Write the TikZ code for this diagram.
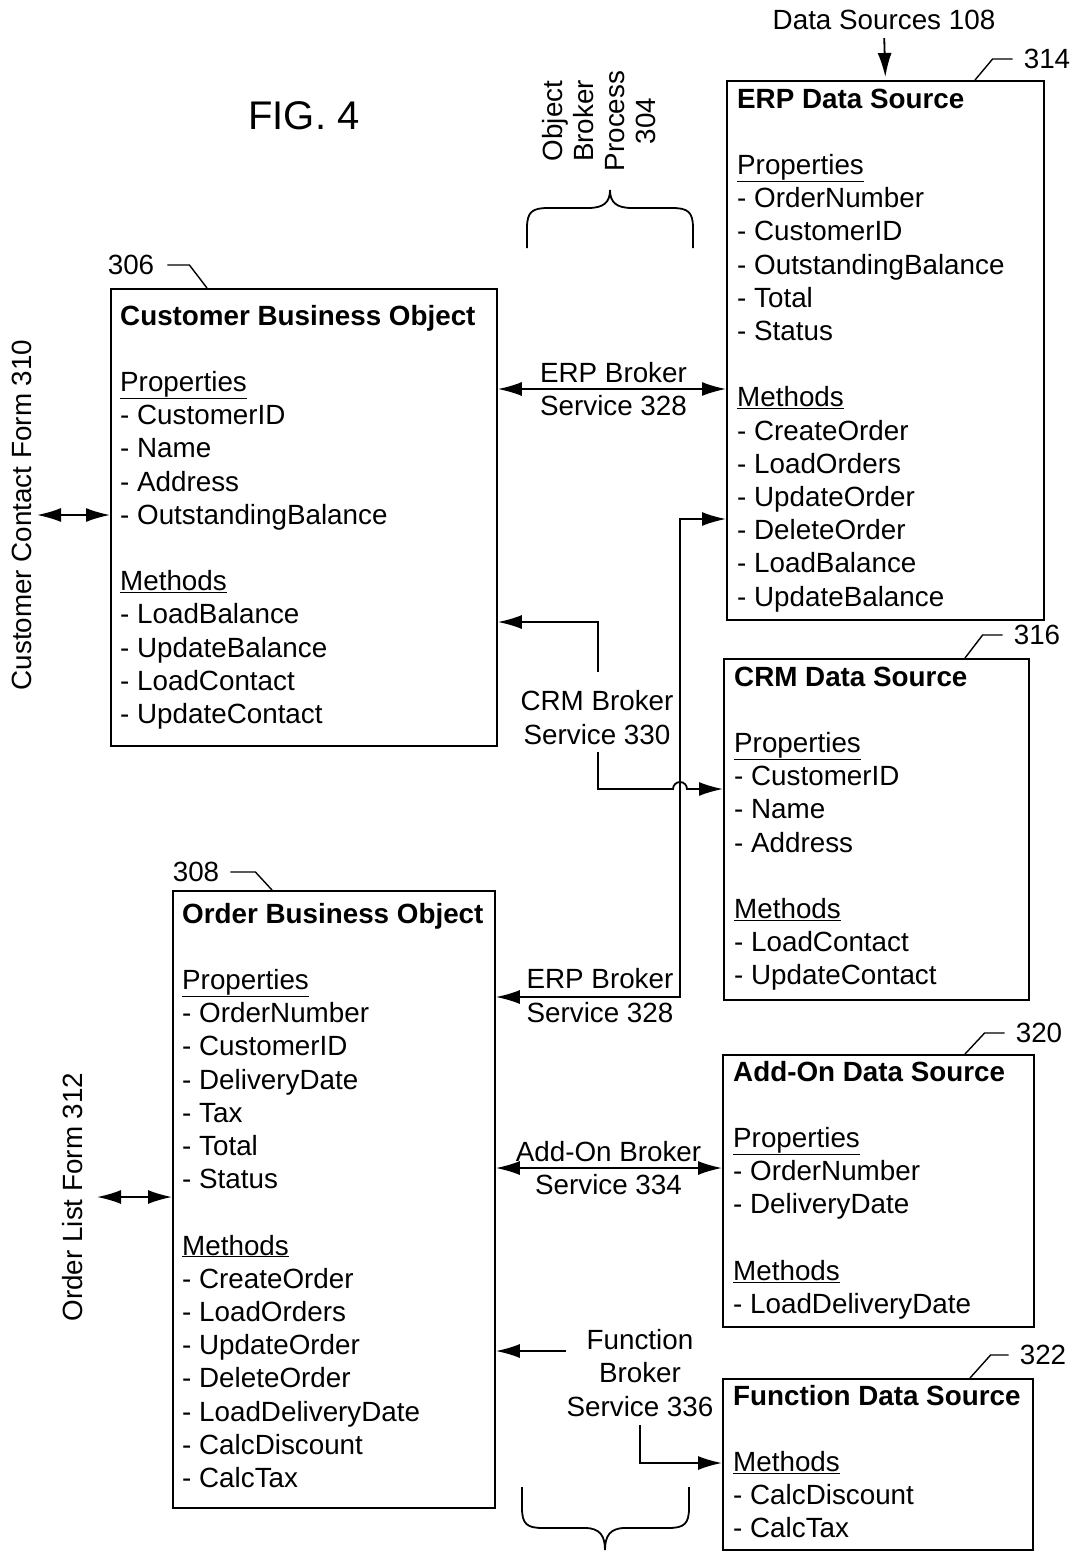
\documentclass[tikz,border=0pt]{standalone}
\usepackage{fontspec}
\setmainfont{Liberation Sans}
\usetikzlibrary{arrows.meta}
\newcommand\boxtext[4]{\foreach \lineno/\txtline in {#4}{\node[txt] (#1-\lineno) at ({#2},{#3+33.2*\lineno}) {\txtline};}}
\begin{document}
\begin{tikzpicture}[x=1pt,y=-1pt,
  >={Latex[length=24pt,width=14pt]},
  box/.style={draw,line width=1.8pt,rectangle,inner sep=0pt,anchor=north west},
  txt/.style={anchor=base west,inner sep=0pt,font=\fontsize{27.8}{33.2}\selectfont},
  lbl/.style={align=center,inner sep=0pt,font=\fontsize{27.8}{33.2}\selectfont},
  num/.style={inner sep=0pt,font=\fontsize{27.8}{33.2}\selectfont},
  conn/.style={line width=1.8pt},
  lead/.style={line width=1.4pt}]
\useasboundingbox (0,0) rectangle (1074,1551);

% title
\node[inner sep=0pt,font=\fontsize{40}{48}\selectfont] (fig) at (304,116) {FIG. 4};

% boxes
\node[box,minimum width=386pt,minimum height=457pt] (cbo) at (110,288) {};
\node[box,minimum width=317pt,minimum height=539pt] (erp) at (726,80) {};
\node[box,minimum width=305pt,minimum height=341pt] (crm) at (723,658) {};
\node[box,minimum width=322pt,minimum height=617pt] (obo) at (172,890) {};
\node[box,minimum width=311pt,minimum height=272pt] (addon) at (722,1054) {};
\node[box,minimum width=310pt,minimum height=171pt] (func) at (722,1378) {};

% box texts
\boxtext{cbot}{120}{325}{0/{\textbf{Customer Business Object}},2/{\underline{Properties}},3/- CustomerID,4/- Name,5/- Address,6/- OutstandingBalance,8/{\underline{Methods}},9/- LoadBalance,10/- UpdateBalance,11/- LoadContact,12/- UpdateContact}
\boxtext{erpt}{737}{108}{0/{\textbf{ERP Data Source}},2/{\underline{Properties}},3/- OrderNumber,4/- CustomerID,5/- OutstandingBalance,6/- Total,7/- Status,9/{\underline{Methods}},10/- CreateOrder,11/- LoadOrders,12/- UpdateOrder,13/- DeleteOrder,14/- LoadBalance,15/- UpdateBalance}
\boxtext{crmt}{734}{686}{0/{\textbf{CRM Data Source}},2/{\underline{Properties}},3/- CustomerID,4/- Name,5/- Address,7/{\underline{Methods}},8/- LoadContact,9/- UpdateContact}
\boxtext{obot}{182}{923}{0/{\textbf{Order Business Object}},2/{\underline{Properties}},3/- OrderNumber,4/- CustomerID,5/- DeliveryDate,6/- Tax,7/- Total,8/- Status,10/{\underline{Methods}},11/- CreateOrder,12/- LoadOrders,13/- UpdateOrder,14/- DeleteOrder,15/- LoadDeliveryDate,16/- CalcDiscount,17/- CalcTax}
\boxtext{addt}{733}{1081}{0/{\textbf{Add-On Data Source}},2/{\underline{Properties}},3/- OrderNumber,4/- DeliveryDate,6/{\underline{Methods}},7/- LoadDeliveryDate}
\boxtext{funt}{733}{1405}{0/{\textbf{Function Data Source}},2/{\underline{Methods}},3/- CalcDiscount,4/- CalcTax}

% reference numbers with leaders
\node[num] (n306) at (131,265) {306};
\node[num] (n314) at (1047,59) {314};
\node[num] (n316) at (1037,635) {316};
\node[num] (n308) at (196,872) {308};
\node[num] (n320) at (1039,1033) {320};
\node[num] (n322) at (1043,1355) {322};
\coordinate (a306) at (207,288);
\coordinate (a314) at (975,80);
\coordinate (a316) at (965,658);
\coordinate (a308) at (272,890);
\coordinate (a320) at (965,1054);
\coordinate (a322) at (970,1378);
\draw[lead] ([xshift=13pt]n306.east) -- ++(22,0) -- (a306);
\draw[lead] ([xshift=-11pt]n314.west) -- ++(-20,0) -- (a314);
\draw[lead] ([xshift=-11pt]n316.west) -- ++(-20,0) -- (a316);
\draw[lead] ([xshift=11pt]n308.east) -- ++(25,0) -- (a308);
\draw[lead] ([xshift=-11pt]n320.west) -- ++(-20,0) -- (a320);
\draw[lead] ([xshift=-11pt]n322.west) -- ++(-18,0) -- (a322);

% data sources
\node[num] (ds) at (884,20) {Data Sources 108};
\draw[conn,->,shorten <=8pt,shorten >=3pt] (ds.south) -- (erp.north);

% object broker process
\node[lbl,rotate=90,font=\fontsize{27.8}{31}\selectfont] (obp) at (599,121) {Object\\Broker\\Process\\304};
\draw[conn] (527,248) -- (527,228) .. controls (527,212) and (532,208) .. (548,208) -- (588,208) .. controls (604,208) and (610,202) .. (610,190) .. controls (610,202) and (616,208) .. (632,208) -- (672,208) .. controls (688,208) and (693,212) .. (693,228) -- (693,248);
\draw[conn] (522,1487) -- (522,1508) .. controls (522,1524) and (527,1528) .. (543,1528) -- (585,1528) .. controls (600,1528) and (605,1536) .. (605,1550) .. controls (605,1536) and (610,1528) .. (625,1528) -- (668,1528) .. controls (684,1528) and (689,1524) .. (689,1508) -- (689,1487);

% forms
\node[num,rotate=90] (ccf) at (22,515) {Customer Contact Form 310};
\draw[conn,<->] ([xshift=15pt]ccf.center) -- (cbo.west |- ccf.center);
\node[num,rotate=90] (olf) at (73,1197) {Order List Form 312};
\draw[conn,<->] ([xshift=24pt]olf.center) -- (obo.west |- olf.center);

% ERP broker service 328 (top)
\node[lbl] (l328a) at (613.5,389) {ERP Broker\\Service 328};
\draw[conn,<->] (cbo.east |- l328a) -- (erp.west |- l328a);

% CRM broker service 330
\node[lbl] (l330) at (597,717.5) {CRM Broker\\Service 330};
\coordinate (c330u) at (598,672);
\coordinate (c330t) at (598,622);
\coordinate (c330d) at (598,752);
\coordinate (c330b) at (598,789);
\draw[conn,->] (c330u) -- (c330t) -- (cbo.east |- c330t);
\draw[conn,->] (c330d) -- (c330b) -- (673,789) arc (180:360:7) -- (crm.west |- c330b);

% ERP broker service 328 (lower)
\node[lbl] (l328b) at (600,995.5) {ERP Broker\\Service 328};
\coordinate (j1) at (680,519);
\coordinate (j2) at (680,997);
\draw[conn,<->] (obo.east |- j2) -- (j2) -- (j1) -- (erp.west |- j1);

% Add-On broker service 334
\node[lbl] (l334) at (608.5,1168) {Add-On Broker\\Service 334};
\draw[conn,<->] (obo.east |- l334) -- (addon.west |- l334);

% Function broker service 336
\node[lbl] (l336) at (640,1373) {Function\\Broker\\Service 336};
\coordinate (f1) at (566,1351);
\coordinate (f2) at (640,1425);
\coordinate (f3) at (640,1463);
\draw[conn,->] (f1) -- (obo.east |- f1);
\draw[conn,->] (f2) -- (f3) -- (func.west |- f3);
\end{tikzpicture}
\end{document}
